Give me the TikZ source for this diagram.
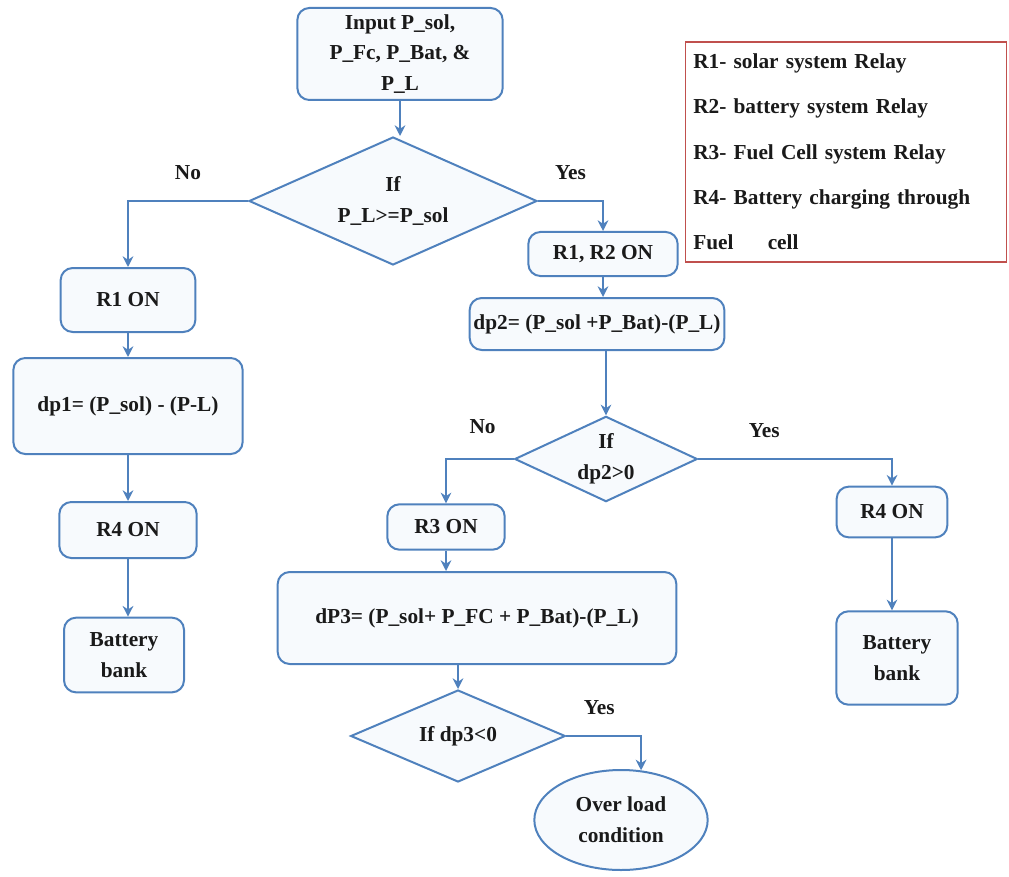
\documentclass[tikz,border=0pt]{standalone}
\usepackage{fontspec}
\setmainfont{Liberation Serif}
\usetikzlibrary{shapes.geometric,arrows.meta}
\definecolor{flow}{HTML}{4F81BD}
\definecolor{boxfill}{HTML}{F7FAFD}
\definecolor{keyline}{HTML}{C0504D}
\definecolor{ink}{HTML}{1A1A1A}
\tikzset{
  txt/.style={text=ink, font=\fontsize{16}{23}\selectfont\bfseries},
  proc/.style={txt, draw=flow, fill=boxfill, line width=1.5pt, rounded corners=9pt, align=center, inner sep=2pt},
  cond/.style={txt, diamond, draw=flow, fill=boxfill, line width=1.5pt, align=center, inner sep=0pt},
  term/.style={txt, ellipse, draw=flow, fill=boxfill, line width=1.5pt, align=center, inner sep=0pt},
  flowline/.style={draw=flow, line width=1.8pt, -{Stealth[length=8pt,width=8pt]}},
  lab/.style={txt, inner sep=0pt},
  keybox/.style={draw=keyline, line width=1.2pt, fill=white, align=left, text=ink,
    font=\fontsize{16}{34}\selectfont\bfseries, inner xsep=4pt}
}
\begin{document}
\begin{tikzpicture}[x=0.75pt, y=-0.75pt]
\useasboundingbox (0,0) rectangle (1009,877);
\node[proc, minimum width=154pt, minimum height=69pt] (input) at (400,54) {Input P\_sol,\\P\_Fc, P\_Bat, \&\\P\_L};
\node[cond, shape aspect=2.25, minimum width=216pt, minimum height=96pt] (ifsol) at (393,201) {If\\P\_L>=P\_sol};
\node[keybox, minimum width=241pt, minimum height=165pt, text width=229pt] (legend) at (846,152)
  {R1- solar system Relay\\R2- battery system Relay\\R3- Fuel Cell system Relay\\
   \makebox[229pt][s]{R4- Battery charging through}\\Fuel\hspace{1.6em}cell};
% left branch
\node[proc, minimum width=101pt, minimum height=48pt] (rone) at (128,300) {R1 ON};
\node[proc, minimum width=172pt, minimum height=72pt] (dpone) at (128,406) {dp1= (P\_sol) - (P-L)};
\node[proc, minimum width=103pt, minimum height=42pt] (rfourL) at (128,530) {R4 ON};
\node[proc, minimum width=90pt, minimum height=56pt] (battL) at (124,655) {Battery\\bank};
% right branch
\node[proc, minimum width=112pt, minimum height=33pt] (rtwo) at (603,254) {R1, R2 ON};
\node[proc, minimum width=191pt, minimum height=39pt] (dptwo) at (597,324) {dp2= (P\_sol +P\_Bat)-(P\_L)};
\node[cond, shape aspect=2.14, minimum width=137pt, minimum height=64pt] (ifdp) at (606,459) {If\\dp2>0};
\node[proc, minimum width=88pt, minimum height=34pt] (rthree) at (446,527) {R3 ON};
\node[proc, minimum width=299pt, minimum height=69pt] (dpthree) at (477,618) {dP3= (P\_sol+ P\_FC + P\_Bat)-(P\_L)};
\node[cond, shape aspect=2.33, minimum width=161pt, minimum height=69pt] (ifover) at (458,736) {If dp3<0};
\node[term, minimum width=130pt, minimum height=75pt] (overload) at (621,820) {Over load\\condition};
\node[proc, minimum width=83pt, minimum height=38pt] (rfourR) at (892,512) {R4 ON};
\node[proc, minimum width=91pt, minimum height=70pt] (battR) at (897,658) {Battery\\bank};
% connectors
\draw[flowline] (input.south) -- (input.south |- ifsol.north);
\draw[flowline] (ifsol.west) -| node[lab, pos=0.25, above=15pt] {No} (rone.north);
\draw[flowline] (ifsol.east) -| node[lab, pos=0.25, above=15pt] {Yes} (rtwo.north);
\draw[flowline] (rone) -- (dpone);
\draw[flowline] (dpone) -- (rfourL);
\draw[flowline] (rfourL) -- (rfourL |- battL.north);
\draw[flowline] (rtwo) -- (rtwo |- dptwo.north);
\draw[flowline] (dptwo.south -| ifdp.north) -- (ifdp.north);
\draw[flowline] (ifdp.west) -| node[lab, pos=0.23, above=18pt] {No} (rthree.north);
\draw[flowline] (ifdp.east) -| node[lab, pos=0.17, above=15pt] {Yes} (rfourR.north);
\draw[flowline] (rthree) -- (rthree |- dpthree.north);
\draw[flowline] (dpthree.south -| ifover.north) -- (ifover.north);
\draw[flowline] (ifover.east) -| node[lab, pos=0.22, above=15pt] {Yes} (overload.68);
\draw[flowline] (rfourR) -- (rfourR |- battR.north);
\end{tikzpicture}
\end{document}
